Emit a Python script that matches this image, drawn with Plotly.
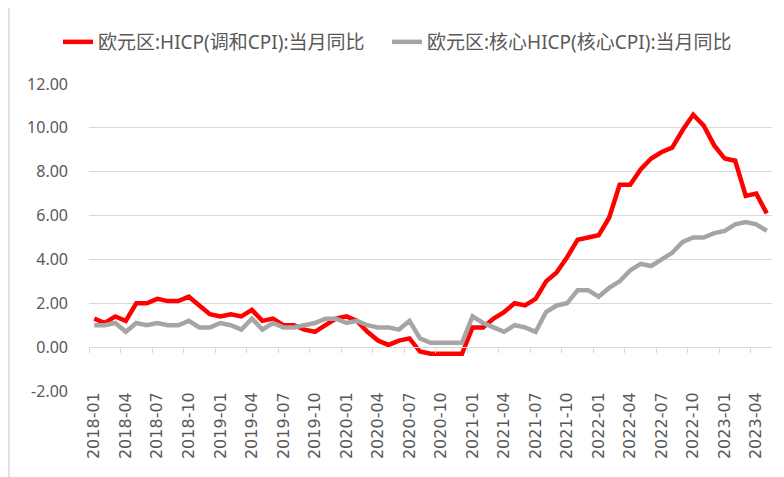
import pandas as pd
import plotly.graph_objects as go

# 月份 2018-01 ~ 2023-05
months = pd.period_range("2018-01", "2023-05", freq="M").strftime("%Y-%m").tolist()

# 欧元区:HICP(调和CPI):当月同比
hicp = [
    1.3, 1.1, 1.4, 1.2, 2.0, 2.0, 2.2, 2.1, 2.1, 2.3, 1.9, 1.5,
    1.4, 1.5, 1.4, 1.7, 1.2, 1.3, 1.0, 1.0, 0.8, 0.7, 1.0, 1.3,
    1.4, 1.2, 0.7, 0.3, 0.1, 0.3, 0.4, -0.2, -0.3, -0.3, -0.3, -0.3,
    0.9, 0.9, 1.3, 1.6, 2.0, 1.9, 2.2, 3.0, 3.4, 4.1, 4.9, 5.0,
    5.1, 5.9, 7.4, 7.4, 8.1, 8.6, 8.9, 9.1, 9.9, 10.6, 10.1, 9.2,
    8.6, 8.5, 6.9, 7.0, 6.1,
]

# 欧元区:核心HICP(核心CPI):当月同比
core = [
    1.0, 1.0, 1.1, 0.7, 1.1, 1.0, 1.1, 1.0, 1.0, 1.2, 0.9, 0.9,
    1.1, 1.0, 0.8, 1.3, 0.8, 1.1, 0.9, 0.9, 1.0, 1.1, 1.3, 1.3,
    1.1, 1.2, 1.0, 0.9, 0.9, 0.8, 1.2, 0.4, 0.2, 0.2, 0.2, 0.2,
    1.4, 1.1, 0.9, 0.7, 1.0, 0.9, 0.7, 1.6, 1.9, 2.0, 2.6, 2.6,
    2.3, 2.7, 3.0, 3.5, 3.8, 3.7, 4.0, 4.3, 4.8, 5.0, 5.0, 5.2,
    5.3, 5.6, 5.7, 5.6, 5.3,
]

y_ticks = [-2, 0, 2, 4, 6, 8, 10, 12]

x = list(range(len(months)))
label_idx = x[::3]
GRID = "#D9D9D9"
TXT = "#595959"

fig = go.Figure()

fig.add_trace(go.Scatter(
    x=x, y=hicp, mode="lines", name="欧元区:HICP(调和CPI):当月同比",
    line=dict(color="#FF0000", width=4.5), legend="legend",
))
fig.add_trace(go.Scatter(
    x=x, y=core, mode="lines", name="欧元区:核心HICP(核心CPI):当月同比",
    line=dict(color="#A5A5A5", width=4.5), legend="legend2",
))
# 0 轴上的刻度线 (隐形 trace 用来挂第二条 x 轴)
fig.add_trace(go.Scatter(
    x=[x[0]], y=[0], xaxis="x2", mode="markers",
    marker=dict(opacity=0), showlegend=False, hoverinfo="skip",
))

x_range = [-0.5, len(months) - 0.5]
leg_font = dict(family="Noto Sans, Noto Sans CJK SC", size=19, color=TXT)

fig.update_layout(
    width=784, height=477,
    margin=dict(l=81, r=20, t=76, b=94, autoexpand=False),
    paper_bgcolor="white", plot_bgcolor="white",
    showlegend=True,
    legend=dict(
        orientation="h", xref="container", yref="container",
        x=50 / 784, y=1 - 15 / 477, xanchor="left", yanchor="top",
        font=leg_font, itemwidth=30,
    ),
    legend2=dict(
        orientation="h", xref="container", yref="container",
        x=379 / 784, y=1 - 15 / 477, xanchor="left", yanchor="top",
        font=leg_font, itemwidth=30,
    ),
    xaxis=dict(
        range=x_range, tickmode="array",
        tickvals=label_idx, ticktext=[months[i] for i in label_idx],
        tickangle=-90, ticks="", showgrid=False, zeroline=False,
        showline=False, automargin=False, ticklabelstandoff=-3,
        tickfont=dict(family="DejaVu Sans", size=16, color=TXT),
    ),
    xaxis2=dict(
        overlaying="x", anchor="free", position=2 / 14,
        range=x_range, tickmode="array",
        tickvals=[i - 0.5 for i in label_idx],
        ticks="outside", ticklen=5, tickcolor=GRID, tickwidth=1,
        showticklabels=False, showgrid=False, zeroline=False,
        showline=True, linecolor=GRID, linewidth=1,
    ),
    yaxis=dict(
        range=[-2, 12], tickmode="array", tickvals=y_ticks,
        ticktext=[f"{v:.2f}" for v in y_ticks],
        showgrid=True, gridcolor=GRID, gridwidth=1,
        zeroline=False, showline=False, ticks="", automargin=False,
        ticklabelstandoff=20,
        tickfont=dict(family="Noto Sans", size=16, color=TXT),
    ),
    shapes=[dict(
        type="line", xref="paper", yref="paper",
        x0=-80 / 683, x1=-80 / 683, y0=-94 / 307, y1=1 + 76 / 307,
        line=dict(color=GRID, width=1.5),
    )],
)

fig.write_html("out.html")
